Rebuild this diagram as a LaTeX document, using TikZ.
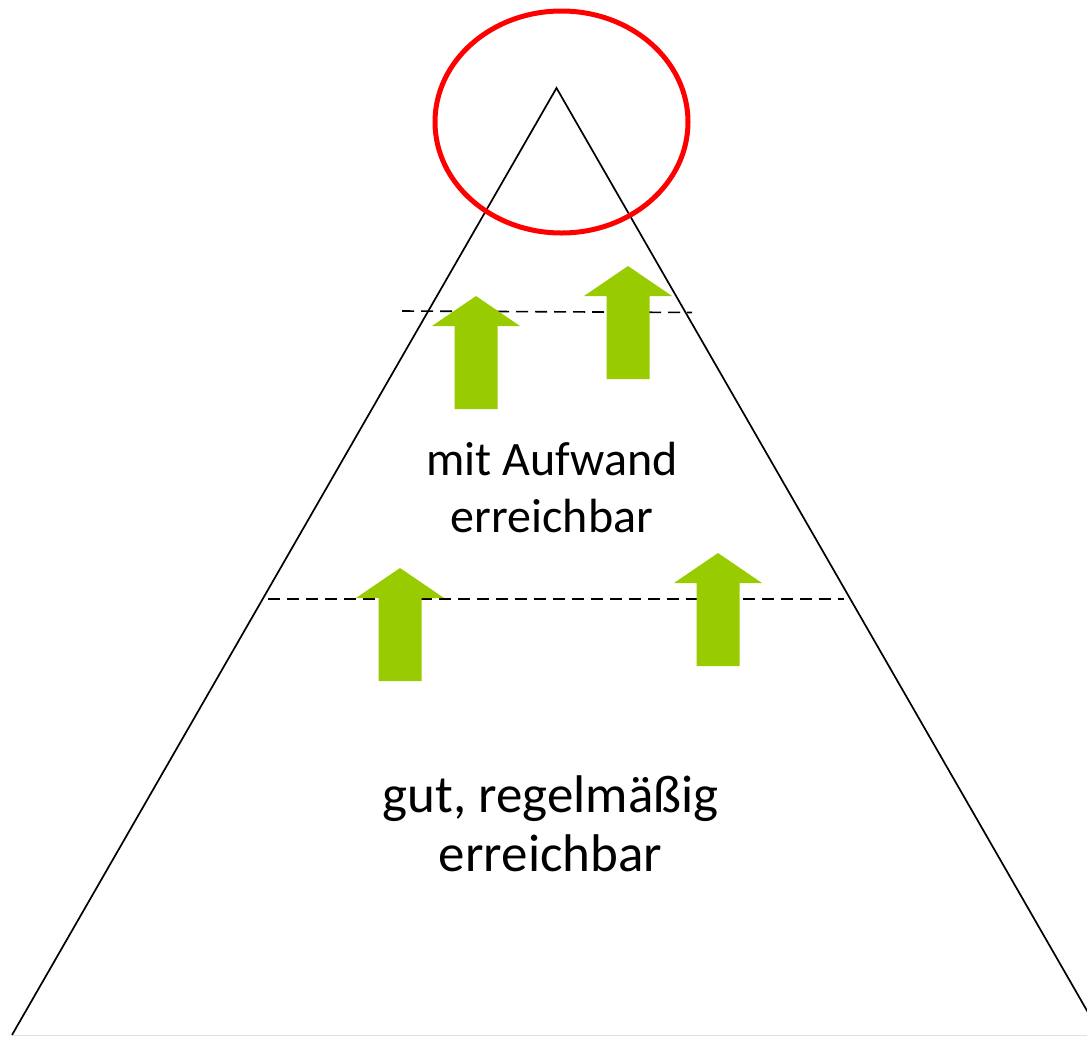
\documentclass[tikz,border=0pt]{standalone}
\usepackage{fontspec}
\setmainfont{Carlito}
\definecolor{arrowgreen}{HTML}{99CC00}
\definecolor{ringred}{HTML}{FF0000}
\tikzset{
  outline/.style={line width=1.7pt, black, line join=miter},
  baseline edge/.style={line width=1pt, black!12},
  levelline/.style={line width=1.6pt, black, dash pattern=on 12pt off 7pt},
  ring/.style={line width=5pt, ringred},
  label text/.style={align=center, inner sep=0pt, anchor=base},
  grarrow/.pic={
    \fill[arrowgreen] (0,0) -- (44,30) -- (21.5,30) -- (21.5,113) -- (-21.5,113) -- (-21.5,30) -- (-44,30) -- cycle;
  }
}
\begin{document}
\begin{tikzpicture}[x=1pt,y=-1pt]
\useasboundingbox (0,0) rectangle (1087,1037);
\clip (0,0) rectangle (1087,1037);
% mountain
\coordinate (apex) at (556.5,88);
\coordinate (bl) at (12,1035);
\coordinate (br) at (1101,1035);
\draw[baseline edge] (bl) -- (br);
\draw[outline] (bl) -- (apex) -- (br);
% level lines
\coordinate (l1a) at (402,311);
\coordinate (l1b) at (692,312.5);
\coordinate (l2a) at (268,599);
\coordinate (l2b) at (844,599);
\draw[levelline] (l1a) -- (l1b);
\draw[levelline] (l2a) -- (l2b);
% arrows
\pic at (476,296) {grarrow};
\pic at (628,266) {grarrow};
\pic at (400,568) {grarrow};
\pic at (718,553) {grarrow};
% summit ring
\node[draw=none] (summit) at (561.5,122) {};
\draw[ring] (summit.center) ellipse [x radius=126.5, y radius=111];
% labels (anchor = baseline of last line)
\node[label text, font=\fontsize{48}{57}\selectfont] (upper) at (552,532.5) {mit Aufwand\\erreichbar};
\node[label text, font=\fontsize{53}{59}\selectfont] (lower) at (550.5,871) {gut, regelmäßig\\erreichbar};
\end{tikzpicture}
\end{document}
